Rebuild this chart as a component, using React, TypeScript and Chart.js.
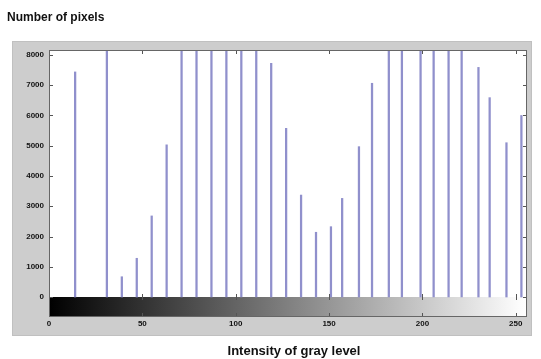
import React, { useEffect, useRef } from "react";
import { Chart, registerables } from "chart.js";

Chart.register(...registerables);

const stemLevels = [14, 31, 39, 47, 55, 63, 71, 79, 87, 95, 103, 111, 119, 127, 135, 143, 151, 157, 166, 173, 182, 189, 199, 206, 214, 221, 230, 236, 245, 253];
const stemCounts = [7440, 9000, 670, 1280, 2680, 5030, 9000, 9000, 9000, 9000, 9000, 9000, 7725, 5575, 3370, 2140, 2325, 3260, 4970, 7065, 9000, 9000, 9000, 9000, 9000, 9000, 7590, 6590, 5100, 6000];
const yTicks = [0, 1000, 2000, 3000, 4000, 5000, 6000, 7000, 8000];
const xTicks = [0, 50, 100, 150, 200, 250];
const yTitle = "Number of pixels";
const xTitle = "Intensity of gray level";

const framePlugin = {
  id: "frame",
  beforeDraw(chart: any) {
    const { ctx, chartArea } = chart;
    const x = chart.scales.x;
    const y = chart.scales.y;
    ctx.save();
    ctx.fillStyle = "#ffffff";
    ctx.fillRect(0, 0, chart.width, chart.height);
    ctx.fillStyle = "#cdcdcd";
    ctx.fillRect(12, 41, 520, 295);
    ctx.strokeStyle = "#c0c0c0";
    ctx.lineWidth = 1;
    ctx.strokeRect(12.5, 41.5, 519, 294);
    ctx.fillStyle = "#ffffff";
    ctx.fillRect(chartArea.left, chartArea.top, chartArea.right - chartArea.left, chartArea.bottom - chartArea.top);
    const y0 = y.getPixelForValue(0);
    const g = ctx.createLinearGradient(x.getPixelForValue(0), 0, x.getPixelForValue(255), 0);
    g.addColorStop(0, "#000000");
    g.addColorStop(1, "#ffffff");
    ctx.fillStyle = g;
    ctx.fillRect(chartArea.left, y0, chartArea.right - chartArea.left, chartArea.bottom - y0);
    ctx.fillStyle = "#111111";
    ctx.font = "bold 12px 'Liberation Sans', Arial, sans-serif";
    ctx.textAlign = "left";
    ctx.textBaseline = "alphabetic";
    ctx.fillText(yTitle, 7, 21);
    ctx.font = "bold 13px 'Liberation Sans', Arial, sans-serif";
    ctx.textAlign = "center";
    ctx.fillText(xTitle, 294, 355);
    ctx.restore();
  },
  afterDatasetsDraw(chart: any) {
    const { ctx, chartArea } = chart;
    const x = chart.scales.x;
    const y = chart.scales.y;
    const y0 = y.getPixelForValue(0);
    ctx.save();
    ctx.strokeStyle = "#555555";
    ctx.lineWidth = 1;
    ctx.beginPath();
    yTicks.forEach((v) => {
      const py = Math.round(y.getPixelForValue(v)) + 0.5;
      ctx.moveTo(chartArea.left, py);
      ctx.lineTo(chartArea.left + 4, py);
      ctx.moveTo(chartArea.right, py);
      ctx.lineTo(chartArea.right - 4, py);
    });
    xTicks.forEach((v) => {
      const px = Math.round(x.getPixelForValue(v)) + 0.5;
      ctx.moveTo(px, chartArea.top);
      ctx.lineTo(px, chartArea.top + 4);
      ctx.moveTo(px, y0 - 3);
      ctx.lineTo(px, y0 + 3);
      ctx.moveTo(px, chartArea.bottom);
      ctx.lineTo(px, chartArea.bottom - 4);
    });
    ctx.stroke();
    ctx.strokeStyle = "#666666";
    ctx.strokeRect(chartArea.left + 0.5, chartArea.top + 0.5, chartArea.right - chartArea.left - 1, chartArea.bottom - chartArea.top - 1);
    ctx.restore();
  },
};

export default function App() {
  const ref = useRef<HTMLCanvasElement | null>(null);
  useEffect(() => {
    if (!ref.current) return;
    const chart = new Chart(ref.current, {
      type: "bar",
      data: {
        datasets: [
          {
            data: stemLevels.map((lv, i) => ({ x: lv, y: stemCounts[i] })),
            backgroundColor: "#9090cc",
            borderWidth: 0,
            barThickness: 1.6,
            clip: 0,
          } as any,
        ],
      },
      options: {
        animation: false,
        responsive: false,
        maintainAspectRatio: false,
        layout: { padding: { left: 0, top: 50, right: 14, bottom: 0 } },
        plugins: { legend: { display: false }, tooltip: { enabled: false }, title: { display: false } },
        scales: {
          x: {
            type: "linear",
            offset: false,
            min: 0,
            max: 256,
            grid: { display: false, drawTicks: false, offset: false },
            border: { display: false },
            afterBuildTicks: (s: any) => {
              s.ticks = xTicks.map((v) => ({ value: v }));
            },
            afterFit: (s: any) => {
              s.height = 42;
            },
            ticks: {
              padding: 2,
              maxRotation: 0,
              autoSkip: false,
              color: "#111111",
              callback: (v: any) => String(v),
              font: { family: "'Liberation Sans', Arial, sans-serif", size: 8, weight: "bold" },
            },
          },
          y: {
            type: "linear",
            min: -661,
            max: 8165,
            grid: { display: false, drawTicks: false },
            border: { display: false },
            afterBuildTicks: (s: any) => {
              s.ticks = yTicks.map((v) => ({ value: v }));
            },
            afterFit: (s: any) => {
              s.width = 49;
            },
            ticks: {
              padding: 5,
              autoSkip: false,
              color: "#111111",
              callback: (v: any) => String(v),
              font: { family: "'Liberation Sans', Arial, sans-serif", size: 8, weight: "bold" },
            },
          },
        },
      },
      plugins: [framePlugin],
    });
    return () => chart.destroy();
  }, []);
  return (
    <div style={{ position: "fixed", left: 0, top: 0, width: 541, height: 359 }}>
      <canvas ref={ref} width={541} height={359} />
    </div>
  );
}
